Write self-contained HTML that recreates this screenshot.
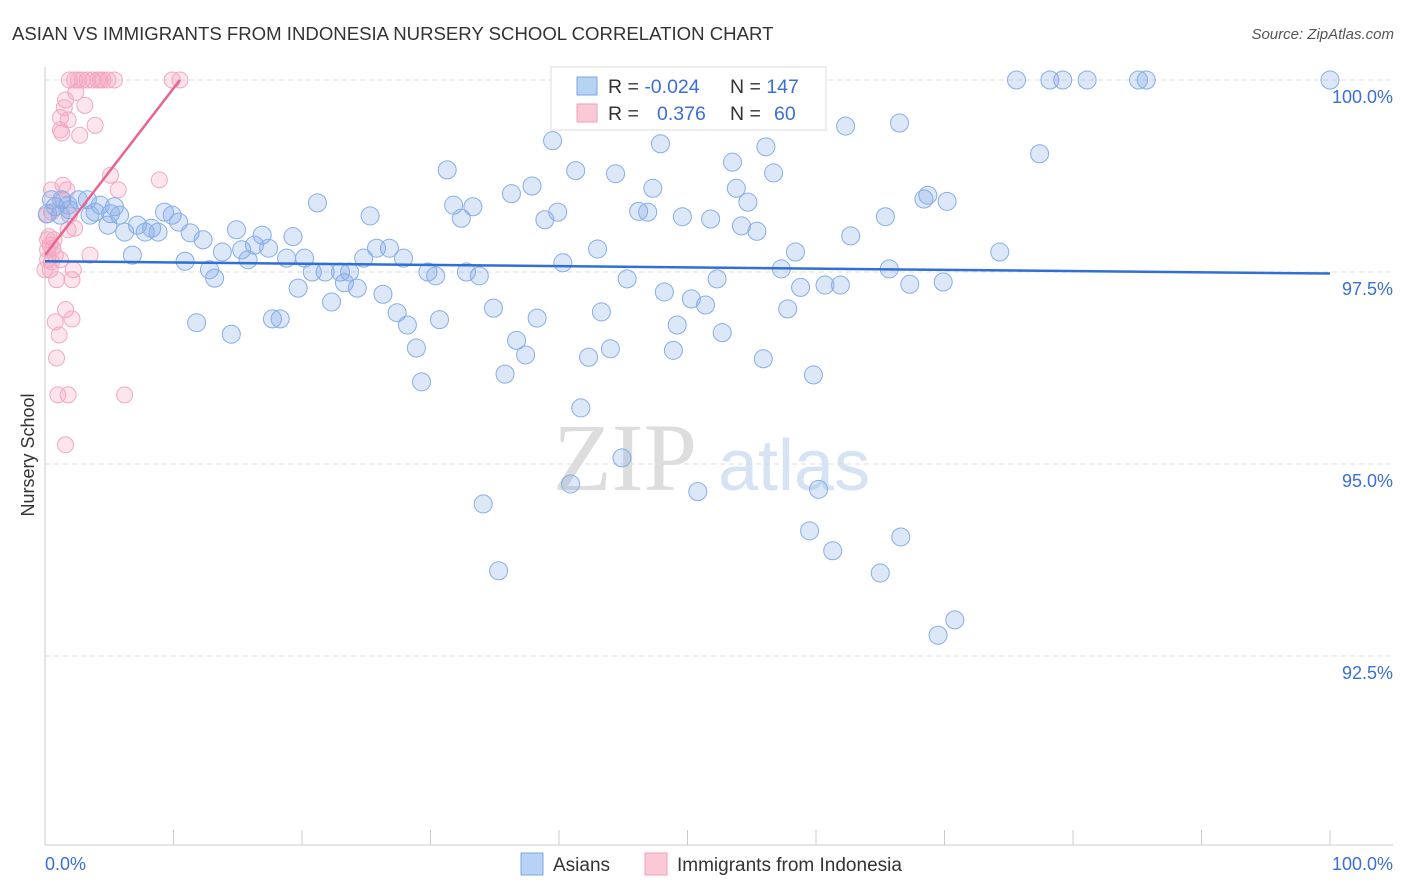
<!DOCTYPE html>
<html><head><meta charset="utf-8"><style>
body{margin:0;background:#fff;font-family:"Liberation Sans",sans-serif;}
svg{display:block}
</style></head><body>
<svg id="chart" width="1406" height="892">
<text x="12" y="40" font-size="18.6" fill="#333">ASIAN VS IMMIGRANTS FROM INDONESIA NURSERY SCHOOL CORRELATION CHART</text>
<text x="1394" y="39" font-size="15" fill="#555" font-style="italic" text-anchor="end">Source: ZipAtlas.com</text>
<g>
<text x="553" y="490" font-size="96" fill="#ddd" font-family="Liberation Serif,serif">ZIP</text>
<text x="718" y="490" font-size="72" fill="#d5e3f5">atlas</text>
</g>
<g id="grid"></g>
<g id="axes"></g>
<g id="marks"></g>
<text transform="translate(34,455) rotate(-90)" font-size="18" fill="#333" text-anchor="middle">Nursery School</text>
<g>
<rect x="551" y="67" width="275" height="63" fill="#fff" stroke="#ddd"/>
<rect x="577" y="77" width="20" height="18" fill="#b8d2f4" stroke="#7aa6e6"/>
<rect x="577" y="104" width="20" height="18" fill="#fbc8d6" stroke="#f0a0bb"/>
<text x="608" y="93" font-size="19.5" fill="#333">R = <tspan fill="#3a6fd8">-0.024</tspan></text>
<text x="730" y="93" font-size="19.5" fill="#333">N = <tspan fill="#3a6fd8">147</tspan></text>
<text x="608" y="120" font-size="19.5" fill="#333">R = </text>
<text x="657" y="120" font-size="19.5" fill="#3a6fd8">0.376</text>
<text x="730" y="120" font-size="19.5" fill="#333">N = </text>
<text x="774" y="120" font-size="19.5" fill="#3a6fd8">60</text>
</g>
<g>
<rect x="521" y="853" width="22" height="22" fill="#b8d2f4" stroke="#7aa6e6"/>
<text x="553" y="871" font-size="19" fill="#333">Asians</text>
<rect x="645" y="853" width="22" height="22" fill="#fbc8d6" stroke="#f0a0bb"/>
<text x="677" y="871" font-size="19" fill="#333">Immigrants from Indonesia</text>
</g>
</svg>
<script>
const blueX=[0.8,1.3,1.9,2.6,3.3,3.9,4.3,4.9,5.4,5.8,6.2,6.8,7.2,7.8,8.3,8.8,9.3,9.9,10.4,10.9,11.3,11.8,12.3,12.8,13.2,13.8,14.5,14.9,15.3,15.8,16.3,16.9,17.4,17.7,18.3,18.8,19.3,19.7,20.2,20.8,21.2,21.8,22.3,23.0,23.3,23.7,24.3,24.8,25.3,25.8,26.3,26.8,27.4,27.9,28.2,28.9,29.3,29.8,30.4,30.7,31.3,31.8,32.4,32.8,33.3,33.8,34.1,34.9,35.3,35.8,36.3,36.7,37.4,37.9,38.3,38.9,39.5,39.9,40.3,40.9,41.3,41.7,42.3,43.0,43.3,44.0,44.4,44.9,45.3,45.8,46.2,46.9,47.3,47.9,48.2,48.9,49.2,49.6,50.3,50.8,51.4,51.8,52.3,52.7,53.5,53.8,54.2,54.7,55.4,55.9,56.1,56.7,57.3,57.8,58.4,58.8,59.5,59.8,60.2,60.7,61.3,61.9,62.3,62.7,65.0,65.4,65.7,66.5,66.6,67.3,68.4,68.7,69.5,69.9,70.2,70.8,74.3,75.6,77.4,78.2,79.2,81.1,85.1,85.7,100,0.2,0.5,1.2,1.8,3.5,5.1];
const blueY=[98.35,98.44,98.31,98.44,98.44,98.28,98.37,98.11,98.35,98.24,98.02,97.72,98.11,98.02,98.07,98.02,98.28,98.24,98.15,97.64,98.01,96.84,97.92,97.53,97.42,97.76,96.69,98.05,97.79,97.66,97.85,97.98,97.81,96.89,96.89,97.68,97.96,97.29,97.68,97.50,98.40,97.50,97.11,97.50,97.36,97.50,97.29,97.68,98.23,97.81,97.21,97.81,96.97,97.68,96.81,96.51,96.07,97.50,97.45,96.88,98.83,98.37,98.20,97.50,98.35,97.45,94.48,97.03,93.61,96.17,98.52,96.61,96.42,98.62,96.90,98.18,99.21,98.28,97.62,94.74,98.82,95.73,96.39,97.80,96.98,96.50,98.78,95.08,97.41,99.52,98.29,98.28,98.59,99.17,97.24,96.48,96.81,98.22,97.15,94.64,97.07,98.19,97.41,96.71,98.93,98.59,98.10,98.41,98.03,96.37,99.13,98.79,97.54,97.02,97.76,97.30,94.13,96.16,94.67,97.33,93.87,97.33,99.40,97.97,93.58,98.22,97.54,99.44,94.05,97.34,98.45,98.50,92.77,97.37,98.42,92.97,97.76,100,99.04,100,100,100,100,100,100,98.26,98.44,98.24,98.37,98.24,98.26];
const pinkX=[0.1,0.2,0.4,0.5,0.6,0.8,0.9,1.0,1.2,1.3,1.4,1.6,1.6,1.7,1.8,1.9,2.1,2.2,2.3,2.4,2.6,2.7,2.9,3.1,3.3,3.5,3.7,3.9,4.1,4.3,4.5,4.9,5.1,5.4,5.7,6.2,8.9,9.9,10.5,0.2,0.3,0.5,0.7,0.9,1.1,1.2,1.5,1.6,1.8,1.9,2.1,2.3,0,0.2,0.4,0.5,0.8,1.2,1.4,1.8];
const pinkY=[98.24,97.92,97.53,98.57,97.81,96.85,96.38,95.90,99.51,99.31,98.44,95.25,97.01,98.57,98.05,100,96.89,97.53,100,99.84,100,99.28,100,99.67,100,97.72,100,99.41,100,100,100,100,98.76,100,98.57,95.90,98.70,100,100,97.66,97.96,98.28,97.92,97.40,96.68,99.35,99.64,99.74,95.90,98.24,97.40,98.07,97.53,97.79,97.85,97.63,97.72,97.66,98.63,99.48];
const blueTrendX=[0,100], blueTrendY=[97.64,97.48];
const pinkTrendX=[0,10.5], pinkTrendY=[97.72,100];
const yTicks=[100,97.5,95,92.5];
const yTickLabels=["100.0%","97.5%","95.0%","92.5%"];

const NS="http://www.w3.org/2000/svg";
const sx=v=>45+v*12.85;
const sy=v=>80+(100-v)*76.8;
function mk(tag,attrs,parent){const e=document.createElementNS(NS,tag);for(const k in attrs)e.setAttribute(k,attrs[k]);parent.appendChild(e);return e;}
const grid=document.getElementById('grid'),axes=document.getElementById('axes'),marks=document.getElementById('marks');
yTicks.forEach((t,i)=>{
 const l=mk('line',{x1:45,x2:1393,y1:sy(t),y2:sy(t),stroke:'#ddd','stroke-dasharray':'5,4'},grid);
 
 
 const tx=mk('text',{x:1393,y:sy(t)+23,'font-size':18,fill:'#3a6fd8','text-anchor':'end'},axes);
 tx.textContent=yTickLabels[i];
 
 
});
mk('line',{x1:45,x2:45,y1:67,y2:845,stroke:'#ccc'},axes);
mk('line',{x1:45,x2:1393,y1:845,y2:845,stroke:'#ccc'},axes);
for(let i=0;i<=10;i++){
 const t=mk('line',{x1:sx(i*10),x2:sx(i*10),y1:830,y2:845,stroke:'#ccc'},axes);
 
 
}
const x0=mk('text',{x:45,y:870,'font-size':18,fill:'#3a6fd8'},axes);x0.textContent='0.0%';


const x1=mk('text',{x:1393,y:870,'font-size':18,fill:'#3a6fd8','text-anchor':'end'},axes);x1.textContent='100.0%';


pinkX.forEach((v,i)=>{
 const c=mk('circle',{cx:sx(v),cy:sy(pinkY[i]),r:8,fill:'rgba(244,160,190,0.28)',stroke:'#f3a8c0','stroke-width':1},marks);
 
 
});
blueX.forEach((v,i)=>{
 const c=mk('circle',{cx:sx(v),cy:sy(blueY[i]),r:9,fill:'rgba(130,170,230,0.28)',stroke:'#86aee8','stroke-width':1},marks);
 
 
});
const bt=mk('line',{x1:sx(blueTrendX[0]),y1:sy(blueTrendY[0]),x2:sx(blueTrendX[1]),y2:sy(blueTrendY[1]),stroke:'#2f6fd6','stroke-width':2.5},marks);


const pt=mk('line',{x1:sx(pinkTrendX[0]),y1:sy(pinkTrendY[0]),x2:sx(pinkTrendX[1]),y2:sy(pinkTrendY[1]),stroke:'#e8648f','stroke-width':2.5},marks);


</script>
</body></html>
